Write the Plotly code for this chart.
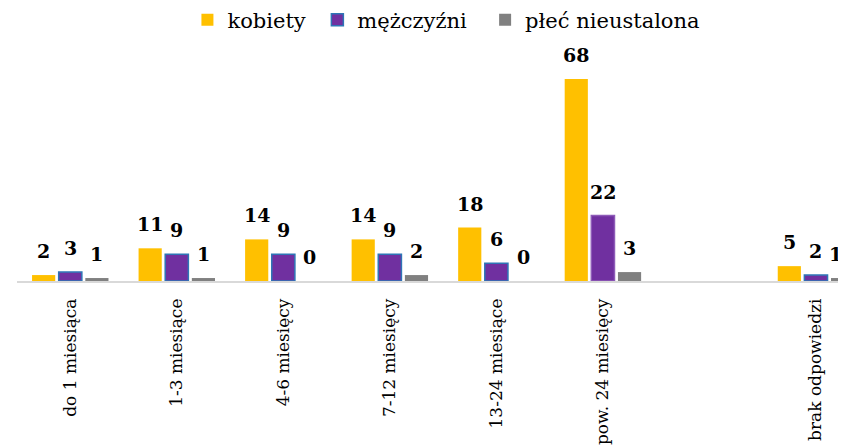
import plotly.graph_objects as go

categories = ["do 1 miesiąca", "1-3 miesiące", "4-6 miesięcy", "7-12 miesięcy",
              "13-24 miesiące", "pow. 24 miesięcy", "brak odpowiedzi"]
positions = [0, 1, 2, 3, 4, 5, 7]
kobiety = [2, 11, 14, 14, 18, 68, 5]
mezczyzni = [3, 9, 9, 9, 6, 22, 2]
nieustalona = [1, 1, 0, 2, 0, 3, 1]

series = [
    ("kobiety\u00a0", kobiety, "#FFC000", "#FFC000"),
    ("mężczyźni\u00a0\u00a0", mezczyzni, "#7030A0", "#2E75B6"),
    ("płeć nieustalona", nieustalona, "#808080", "#808080"),
]

FONT = "DejaVu Serif"
fig = go.Figure()
for i, (name, vals, col, lcol) in enumerate(series):
    lc = [lcol if v < 20 else "#8E5BB8" for v in vals] if i == 1 else lcol
    fig.add_trace(go.Bar(
        x=positions, y=vals, name=name,
        marker=dict(color=col, line=dict(color=lc, width=1.5 if i == 1 else 0)),
        hoverinfo="skip",
    ))

slot = 0.25
offsets = [-slot, 0, slot]
annotations = []
for (name, vals, col, lcol), off in zip(series, offsets):
    for p, v in zip(positions, vals):
        edge = (p + off) > 7.1
        annotations.append(dict(
            x=p + off, y=v, xref="x", yref="y", text=str(v), showarrow=False,
            yanchor="bottom", yshift=11,
            xanchor="right" if edge else "center", xshift=1 if edge else 0,
            font=dict(family=FONT, size=19, color="#000000", weight="bold"),
        ))

# page body has an 8px margin; the figure is sized so the visible window matches
fig.update_layout(
    width=838, height=438,
    paper_bgcolor="white", plot_bgcolor="white",
    margin=dict(l=9, r=0, t=62, b=165, autoexpand=False),
    barmode="group", bargap=0.25, bargroupgap=0.13,
    font=dict(family=FONT, size=17, color="#000000"),
    showlegend=True,
    legend=dict(orientation="h", x=0.518, xref="paper", xanchor="center",
                y=1 + 50 / 211, yref="paper", yanchor="middle",
                font=dict(family=FONT, size=21), itemclick=False),
    annotations=annotations,
)
fig.update_xaxes(
    range=[-0.5, 7.282], tickvals=positions, ticktext=categories,
    tickangle=-90, showline=True, linecolor="#D9D9D9", linewidth=1.5,
    showgrid=False, zeroline=False, ticks="", ticklabelstandoff=9,
    tickfont=dict(family=FONT, size=17), automargin=False,
)
fig.update_yaxes(range=[0, 71], visible=False, showgrid=False, zeroline=False,
                 automargin=False)
fig.update_traces(cliponaxis=False)

fig.write_html("out.html")
